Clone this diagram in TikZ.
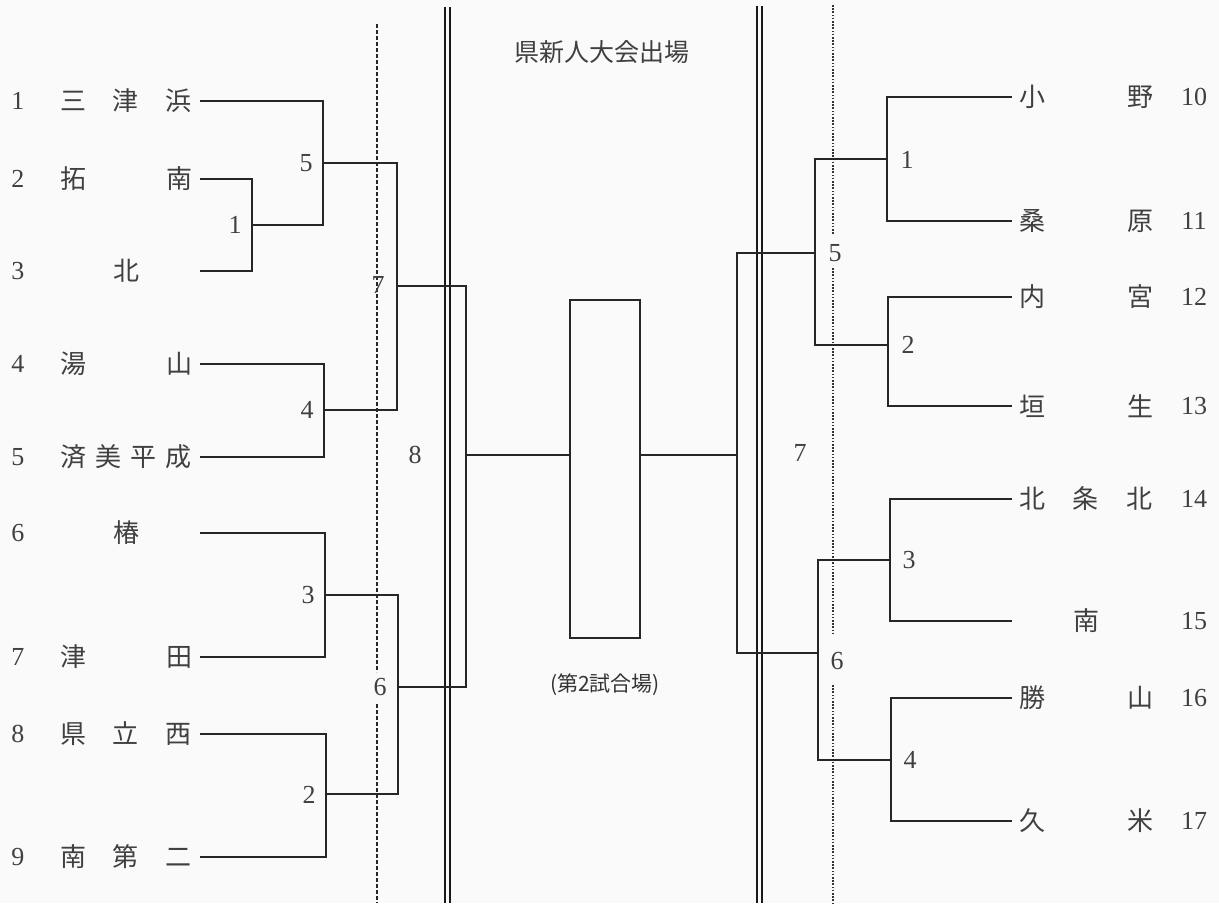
\documentclass[tikz,border=0pt]{standalone}
\usepackage{fontspec}
\setmainfont{Liberation Serif}
\newfontfamily\jp{Noto Sans CJK JP}
\newcommand\tmthreeL[3]{#1\hspace{27pt}#2\hspace{27pt}#3}
\newcommand\tmfourL[4]{#1\hspace{9pt}#2\hspace{9pt}#3\hspace{9pt}#4}
\newcommand\tmthreeR[3]{#1\hspace{28pt}#2\hspace{28pt}#3}
\begin{document}
\begin{tikzpicture}[x=1pt,y=-1pt,
  br/.style={line width=2.2pt, draw=black!85},
  dbl/.style={line width=2pt, draw=black!90},
  tname/.style={font=\jp\fontsize{26}{28}\selectfont, text=black!75, inner sep=0pt},
  tnum/.style={font=\fontsize{26}{28}\selectfont, text=black!75, inner sep=0pt},
  mlab/.style={font=\fontsize{26}{28}\selectfont, text=black!75, inner sep=1pt}]
\useasboundingbox[fill=black!2] (0,0) rectangle (1219,903);

% separators
\draw[dbl] (445,7) -- (445,903);
\draw[dbl] (450,7) -- (450,903);
\draw[dbl] (757,6) -- (757,903);
\draw[dbl] (762,6) -- (762,903);
\draw[line width=2.2pt, black!85, dash pattern=on 4pt off 2pt] (377,24) -- (377,672);
\draw[line width=2.2pt, black!85, dash pattern=on 4pt off 2pt] (377,704) -- (377,903);
\draw[line width=1.8pt, black!80, dash pattern=on 1.6pt off 1.6pt] (833,5) -- (833,234);
\draw[line width=1.8pt, black!80, dash pattern=on 1.6pt off 1.6pt] (833,268) -- (833,635);
\draw[line width=1.8pt, black!80, dash pattern=on 1.6pt off 1.6pt] (833,685) -- (833,903);

% titles
\node[font=\jp\fontsize{25}{27}\selectfont, text=black!75] (title) at (602,52) {県新人大会出場};
\node[font=\jp\fontsize{21}{23}\selectfont, text=black!80] (venue) at (605,685) {(第2試合場)};

% centre box
\node[br, draw, minimum width=70pt, minimum height=338pt, inner sep=0pt] (box) at (605,469) {};

% ---- left teams ----
\foreach \n/\y in {1/101,2/179,3/271,4/364,5/457,6/533,7/657,8/734,9/857}{
  \node[tnum] (ln\n) at (18,\y) {\n};
  \coordinate (t\n) at (200,\y);
}
\node[tname] (name1) at (126,101) {\tmthreeL{三}{津}{浜}};
\node[tname] (name2) at (126,179) {\tmthreeL{拓}{\phantom{南}}{南}};
\node[tname] (name3) at (126,271) {\tmthreeL{\phantom{北}}{北}{\phantom{北}}};
\node[tname] (name4) at (126,364) {\tmthreeL{湯}{\phantom{山}}{山}};
\node[tname] (name5) at (126,457) {\tmfourL{済}{美}{平}{成}};
\node[tname] (name6) at (126,533) {\tmthreeL{\phantom{椿}}{椿}{\phantom{椿}}};
\node[tname] (name7) at (126,657) {\tmthreeL{津}{\phantom{田}}{田}};
\node[tname] (name8) at (126,734) {\tmthreeL{県}{立}{西}};
\node[tname] (name9) at (126,857) {\tmthreeL{南}{第}{二}};

% left match points
\coordinate (L1) at (252,225);
\coordinate (L5) at (323,163);
\coordinate (L4) at (324,410);
\coordinate (L7) at (397,286);
\coordinate (L3) at (325,595);
\coordinate (L2) at (326,794);
\coordinate (L6) at (398,687);
\coordinate (L8) at (466,455);

\draw[br] (t2) -| (L1) |- (t3);
\draw[br] (t1) -| (L5) |- (L1);
\draw[br] (t4) -| (L4) |- (t5);
\draw[br] (L5) -| (L7) |- (L4);
\draw[br] (t6) -| (L3) |- (t7);
\draw[br] (t8) -| (L2) |- (t9);
\draw[br] (L3) -| (L6) |- (L2);
\draw[br] (L7) -| (L8) |- (L6);
\draw[br] (L8) -- (L8 -| box.west);

\node[mlab] (ml1) at (235,225) {1};
\node[mlab] (ml5) at (306,163) {5};
\node[mlab] (ml4) at (307,410) {4};
\node[mlab] (ml7) at (378,285) {7};
\node[mlab] (ml3) at (308,595) {3};
\node[mlab] (ml2) at (309,795) {2};
\node[mlab, fill=black!2] (ml6) at (380,687) {6};
\node[mlab] (ml8) at (415,455) {8};

% ---- right teams ----
\foreach \n/\y in {10/97,11/221,12/297,13/406,14/499,15/621,16/698,17/821}{
  \node[tnum] (rn\n) at (1194,\y) {\n};
  \coordinate (t\n) at (1012,\y);
}
\node[tname] (name10) at (1086,97) {\tmthreeR{小}{\phantom{野}}{野}};
\node[tname] (name11) at (1086,221) {\tmthreeR{桑}{\phantom{原}}{原}};
\node[tname] (name12) at (1086,297) {\tmthreeR{内}{\phantom{宮}}{宮}};
\node[tname] (name13) at (1086,406) {\tmthreeR{垣}{\phantom{生}}{生}};
\node[tname] (name14) at (1086,499) {\tmthreeR{北}{条}{北}};
\node[tname] (name15) at (1086,621) {\tmthreeR{\phantom{南}}{南}{\phantom{南}}};
\node[tname] (name16) at (1086,698) {\tmthreeR{勝}{\phantom{山}}{山}};
\node[tname] (name17) at (1086,821) {\tmthreeR{久}{\phantom{米}}{米}};

\coordinate (R1) at (887,159);
\coordinate (R2) at (888,345);
\coordinate (R5) at (815,253);
\coordinate (R3) at (890,560);
\coordinate (R4) at (891,760);
\coordinate (R6) at (818,653);
\coordinate (R7) at (737,455);

\draw[br] (t10) -| (R1) |- (t11);
\draw[br] (t12) -| (R2) |- (t13);
\draw[br] (R1) -| (R5) |- (R2);
\draw[br] (t14) -| (R3) |- (t15);
\draw[br] (t16) -| (R4) |- (t17);
\draw[br] (R3) -| (R6) |- (R4);
\draw[br] (R5) -| (R7) |- (R6);
\draw[br] (R7) -- (R7 -| box.east);

\node[mlab] (mr1) at (907,160) {1};
\node[mlab] (mr2) at (908,345) {2};
\node[mlab] (mr5) at (835,253) {5};
\node[mlab] (mr3) at (909,560) {3};
\node[mlab] (mr4) at (910,760) {4};
\node[mlab] (mr6) at (837,661) {6};
\node[mlab] (mr7) at (800,453) {7};
\end{tikzpicture}
\end{document}
